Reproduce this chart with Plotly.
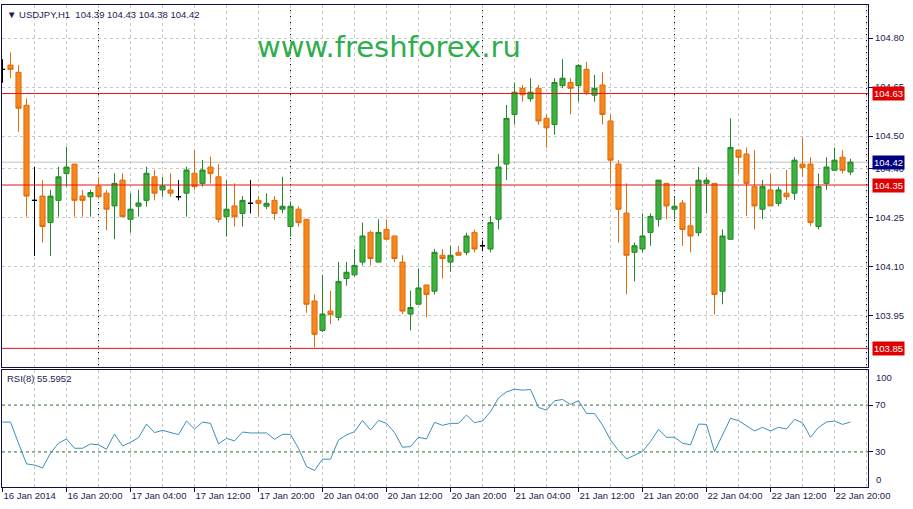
import plotly.graph_objects as go

# ---------------- data (USDJPY H1, 16 Jan 12:00 .. 22 Jan 22:00, weekends skipped) -------------
opens = [104.704, 104.717, 104.695, 104.594, 104.303, 104.316, 104.235, 104.303, 104.385, 104.414,
         104.316, 104.314, 104.347, 104.325, 104.286, 104.365, 104.245, 104.285, 104.303, 104.375,
         104.335, 104.335, 104.314, 104.325, 104.386, 104.355, 104.405, 104.375, 104.253, 104.286,
         104.263, 104.294, 104.303, 104.285, 104.303, 104.276, 104.223, 104.276, 104.245, 103.995,
         103.905, 103.964, 103.945, 104.064, 104.075, 104.114, 104.205, 104.114, 104.214, 104.194,
         104.114, 103.955, 103.985, 104.044, 104.025, 104.135, 104.114, 104.144, 104.144, 104.205,
         104.164, 104.154, 104.245, 104.414, 104.566, 104.646, 104.614, 104.646, 104.554, 104.535,
         104.654, 104.664, 104.654, 104.704, 104.625, 104.656, 104.546, 104.414, 104.264, 104.144,
         104.154, 104.205, 104.245, 104.355, 104.276, 104.295, 104.225, 104.204, 104.355, 104.355,
         104.025, 104.184, 104.457, 104.445, 104.345, 104.276, 104.335, 104.294, 104.325, 104.325,
         104.414, 104.414, 104.223, 104.355, 104.395, 104.435, 104.39]
highs = [104.735, 104.756, 104.717, 104.615, 104.406, 104.365, 104.335, 104.406, 104.467, 104.414,
         104.335, 104.335, 104.375, 104.335, 104.386, 104.386, 104.325, 104.335, 104.406, 104.396,
         104.375, 104.386, 104.365, 104.406, 104.457, 104.427, 104.437, 104.414, 104.365, 104.355,
         104.316, 104.365, 104.316, 104.325, 104.316, 104.375, 104.300, 104.285, 104.245, 104.015,
         104.075, 104.026, 104.114, 104.114, 104.154, 104.235, 104.210, 104.245, 104.245, 104.194,
         104.135, 104.026, 104.095, 104.044, 104.154, 104.154, 104.164, 104.164, 104.204, 104.214,
         104.180, 104.255, 104.445, 104.595, 104.664, 104.656, 104.677, 104.656, 104.566, 104.677,
         104.735, 104.677, 104.720, 104.727, 104.687, 104.695, 104.566, 104.426, 104.355, 104.174,
         104.263, 104.263, 104.365, 104.355, 104.314, 104.304, 104.345, 104.405, 104.375, 104.355,
         104.214, 104.554, 104.457, 104.465, 104.457, 104.365, 104.385, 104.345, 104.396, 104.435,
         104.496, 104.435, 104.385, 104.435, 104.465, 104.457, 104.43]
lows = [104.663, 104.677, 104.513, 104.253, 104.133, 104.174, 104.133, 104.253, 104.345, 104.253,
        104.253, 104.253, 104.310, 104.212, 104.184, 104.253, 104.204, 104.253, 104.284, 104.303,
        104.314, 104.314, 104.303, 104.253, 104.335, 104.345, 104.355, 104.235, 104.192, 104.223,
        104.223, 104.263, 104.253, 104.276, 104.243, 104.263, 104.192, 104.223, 103.959, 103.853,
        103.900, 103.924, 103.935, 104.042, 104.070, 104.104, 104.104, 104.114, 104.184, 104.114,
        103.955, 103.905, 103.985, 103.945, 104.015, 104.064, 104.085, 104.135, 104.135, 104.144,
        104.150, 104.144, 104.214, 104.365, 104.535, 104.605, 104.605, 104.535, 104.464, 104.504,
        104.646, 104.566, 104.605, 104.625, 104.605, 104.535, 104.355, 104.174, 104.015, 104.055,
        104.144, 104.164, 104.223, 104.245, 104.245, 104.164, 104.144, 104.194, 104.263, 103.954,
        103.985, 104.184, 104.385, 104.255, 104.214, 104.245, 104.286, 104.285, 104.304, 104.304,
        104.375, 104.225, 104.214, 104.335, 104.395, 104.385, 104.38]
closes = [104.704, 104.704, 104.585, 104.316, 104.303, 104.223, 104.316, 104.375, 104.405, 104.303,
          104.303, 104.327, 104.314, 104.276, 104.355, 104.253, 104.276, 104.295, 104.386, 104.325,
          104.347, 104.325, 104.314, 104.396, 104.345, 104.396, 104.385, 104.245, 104.276, 104.253,
          104.303, 104.294, 104.294, 104.294, 104.263, 104.285, 104.285, 104.235, 103.985, 103.893,
          103.955, 103.954, 104.055, 104.083, 104.104, 104.194, 104.125, 104.205, 104.184, 104.125,
          103.964, 103.975, 104.035, 104.015, 104.144, 104.125, 104.135, 104.135, 104.194, 104.154,
          104.164, 104.235, 104.405, 104.554, 104.634, 104.626, 104.634, 104.546, 104.525, 104.664,
          104.677, 104.646, 104.716, 104.634, 104.646, 104.566, 104.426, 104.276, 104.135, 104.164,
          104.194, 104.254, 104.365, 104.286, 104.285, 104.214, 104.194, 104.365, 104.365, 104.015,
          104.194, 104.465, 104.435, 104.355, 104.286, 104.345, 104.286, 104.335, 104.314, 104.426,
          104.404, 104.235, 104.345, 104.405, 104.426, 104.395, 104.42]
rsi = [55.5, 55.5, 37.4, 19.8, 18.7, 16.4, 28.9, 37.4, 41.1, 33.1,
       33.1, 36.8, 36.0, 32.3, 45.3, 35.1, 38.2, 42.2, 53.8, 46.5,
       48.4, 46.5, 44.8, 56.4, 49.6, 55.5, 54.4, 36.8, 41.6, 39.4,
       47.0, 46.2, 46.2, 46.2, 40.8, 45.0, 45.0, 33.0, 17.5, 14.1,
       23.8, 23.8, 40.2, 44.5, 47.3, 56.9, 48.7, 56.9, 54.4, 46.5,
       34.0, 34.5, 42.5, 41.1, 55.3, 52.7, 54.4, 54.4, 61.5, 55.0,
       56.4, 64.3, 76.2, 81.3, 83.6, 82.8, 83.3, 68.0, 65.7, 73.7,
       74.8, 70.6, 73.7, 62.9, 62.9, 53.0, 40.2, 31.1, 24.0, 27.4,
       30.3, 38.8, 49.3, 42.5, 42.5, 37.4, 36.0, 53.8, 53.5, 30.3,
       44.5, 58.7, 56.7, 52.1, 47.9, 51.0, 47.9, 51.0, 49.6, 57.8,
       55.0, 42.5, 51.0, 55.5, 56.4, 53.5, 55.5952]
tick_labels = ["16 Jan 2014", "16 Jan 20:00", "17 Jan 04:00", "17 Jan 12:00", "17 Jan 20:00",
               "20 Jan 04:00", "20 Jan 12:00", "20 Jan 20:00", "21 Jan 04:00", "21 Jan 12:00",
               "21 Jan 20:00", "22 Jan 04:00", "22 Jan 12:00", "22 Jan 20:00"]
price_ticks = [103.95, 104.10, 104.25, 104.40, 104.50, 104.65, 104.80]
level_lines = [104.63, 104.35, 103.85]
rsi_levels = [30, 70]
rsi_ticks = [0, 30, 70, 100]
day_starts = [12, 36, 60, 84, 108]   # bar index of 17, 20, 21, 22, 23 Jan 00:00
symbol = "USDJPY,H1"
rsi_period = 8

# ---------------- styling ----------------
TXT = "#1b1b50"
FRAME = "#101040"
GRID = "#c8c8c8"
FONT = "Liberation Sans"
BULL_FILL, BULL_LINE = "#3cb43c", "#27862a"
BEAR_FILL, BEAR_LINE = "#f7881f", "#df6c0c"
LEVEL_RED = "#e41414"

n = len(closes)
idx = list(range(n))
doji = [i for i in idx if abs(opens[i] - closes[i]) < 1e-9]
body = [i for i in idx if i not in doji]

fig = go.Figure()
# horizontal level lines (drawn under the candles)
for lv in level_lines:
    fig.add_trace(go.Scatter(x=[-1, 110], y=[lv, lv], mode="lines",
                             line=dict(color=LEVEL_RED, width=1), hoverinfo="skip",
                             showlegend=False, xaxis="x", yaxis="y"))
fig.add_trace(go.Candlestick(
    x=body, open=[opens[i] for i in body], high=[highs[i] for i in body],
    low=[lows[i] for i in body], close=[closes[i] for i in body],
    increasing=dict(line=dict(color=BULL_LINE, width=1), fillcolor=BULL_FILL),
    decreasing=dict(line=dict(color=BEAR_LINE, width=1), fillcolor=BEAR_FILL),
    whiskerwidth=0, showlegend=False, xaxis="x", yaxis="y"))
fig.add_trace(go.Candlestick(
    x=doji, open=[opens[i] for i in doji], high=[highs[i] for i in doji],
    low=[lows[i] for i in doji], close=[closes[i] for i in doji],
    increasing=dict(line=dict(color="#000000", width=1), fillcolor="#000000"),
    decreasing=dict(line=dict(color="#000000", width=1), fillcolor="#000000"),
    whiskerwidth=0, showlegend=False, xaxis="x", yaxis="y"))
fig.add_trace(go.Scatter(x=idx, y=rsi, mode="lines", line=dict(color="#3a8fba", width=1),
                         showlegend=False, xaxis="x2", yaxis="y2"))

xr = [-0.0625, 108.1875]
grid4 = list(range(0, 109, 4))
lab_pos = list(range(0, 8 * len(tick_labels), 8))

fig.update_layout(
    width=913, height=509,
    margin=dict(l=2, r=45, t=5, b=22),
    paper_bgcolor="white", plot_bgcolor="white",
    font=dict(family=FONT, size=9.5, color=TXT),
    boxgap=0.2, boxgroupgap=0.2,
    xaxis=dict(domain=[0, 1], anchor="y", range=xr, rangeslider=dict(visible=False),
               tickmode="array", tickvals=grid4, showticklabels=False, ticks="",
               showgrid=True, gridcolor=GRID, griddash="3px,3px", gridwidth=1,
               showline=True, mirror=True, linecolor=FRAME, linewidth=1, zeroline=False),
    yaxis=dict(domain=[0.249, 1], anchor="x", range=[103.793, 104.901], side="right",
               tickmode="array", tickvals=price_ticks, tickformat=".2f",
               ticks="outside", ticklen=4, tickcolor=FRAME,
               showgrid=True, gridcolor=GRID, griddash="3px,3px", gridwidth=1,
               showline=True, mirror=True, linecolor=FRAME, linewidth=1, zeroline=False),
    xaxis2=dict(domain=[0, 1], anchor="y2", matches="x", range=xr,
                tickmode="array", tickvals=lab_pos, ticktext=tick_labels,
                ticklabelposition="outside right", ticks="outside", ticklen=4, tickcolor=FRAME,
                showgrid=True, gridcolor=GRID, griddash="3px,3px", gridwidth=1,
                minor=dict(tickvals=grid4, showgrid=True, gridcolor=GRID, griddash="3px,3px",
                           ticks=""),
                showline=True, mirror=True, linecolor=FRAME, linewidth=1, zeroline=False),
    yaxis2=dict(domain=[0, 0.2427], anchor="x2", range=[0, 100], side="right",
                tickmode="array", tickvals=rsi_levels, ticks="outside", ticklen=4,
                tickcolor=FRAME, showgrid=False,
                showline=True, mirror=True, linecolor=FRAME, linewidth=1, zeroline=False),
)

shapes = []
for d in day_starts:
    for yr in ("y domain", "y2 domain"):
        shapes.append(dict(type="line", xref="x", yref=yr, x0=d, x1=d, y0=0, y1=1,
                           line=dict(color="#000000", width=1, dash="3px,3px"), layer="below"))
shapes.append(dict(type="line", xref="x domain", yref="y", x0=0, x1=1,
                   y0=closes[-1], y1=closes[-1], line=dict(color="#c0c0c0", width=1),
                   layer="below"))
for lv in rsi_levels:
    shapes.append(dict(type="line", xref="x2 domain", yref="y2", x0=0, x1=1, y0=lv, y1=lv,
                       line=dict(color="#2f6f2f", width=1, dash="3px,3px"), layer="below"))
fig.update_layout(shapes=shapes)

ann = []
# watermark
ann.append(dict(text="www.freshforex.ru", xref="paper", yref="paper", x=0.447, y=0.912,
                xanchor="center", yanchor="middle", showarrow=False,
                font=dict(family="DejaVu Sans", size=29, color="#2eae4b")))
# header
ann.append(dict(text="▼ %s  %.2f %.2f %.2f %.2f" % (symbol, opens[-1], highs[-1], lows[-1], closes[-1]),
                xref="paper", yref="paper", x=0.004, y=0.981, xanchor="left", yanchor="middle",
                showarrow=False, font=dict(family=FONT, size=9.5, color=TXT)))
# RSI label
ann.append(dict(text="RSI(%d) %.4f" % (rsi_period, rsi[-1]), xref="paper", yref="paper",
                x=0.004, y=0.226, xanchor="left", yanchor="middle", showarrow=False,
                font=dict(family=FONT, size=9.5, color=TXT)))
# price boxes
for lv in level_lines:
    ann.append(dict(text="%.2f" % lv, xref="paper", yref="y", x=1, y=lv, xanchor="left",
                    yanchor="middle", xshift=4, showarrow=False, bgcolor="#e00000",
                    borderpad=1, font=dict(family=FONT, size=9.5, color="white")))
ann.append(dict(text="%.2f" % closes[-1], xref="paper", yref="y", x=1, y=closes[-1],
                xanchor="left", yanchor="middle", xshift=4, showarrow=False, bgcolor="#000080",
                borderpad=1, font=dict(family=FONT, size=9.5, color="white")))
# RSI extreme labels
ann.append(dict(text=str(rsi_ticks[-1]), xref="paper", yref="y2", x=1, y=rsi_ticks[-1],
                xanchor="left", yanchor="top", xshift=6, showarrow=False,
                font=dict(family=FONT, size=9.5, color=TXT)))
ann.append(dict(text=str(rsi_ticks[0]), xref="paper", yref="y2", x=1, y=rsi_ticks[0],
                xanchor="left", yanchor="bottom", xshift=6, showarrow=False,
                font=dict(family=FONT, size=9.5, color=TXT)))
fig.update_layout(annotations=ann)

fig.write_html("out.html", config={"displayModeBar": False},
               post_script="document.body.style.margin='0';document.body.style.padding='0';"
                           "document.body.style.overflow='hidden';")
